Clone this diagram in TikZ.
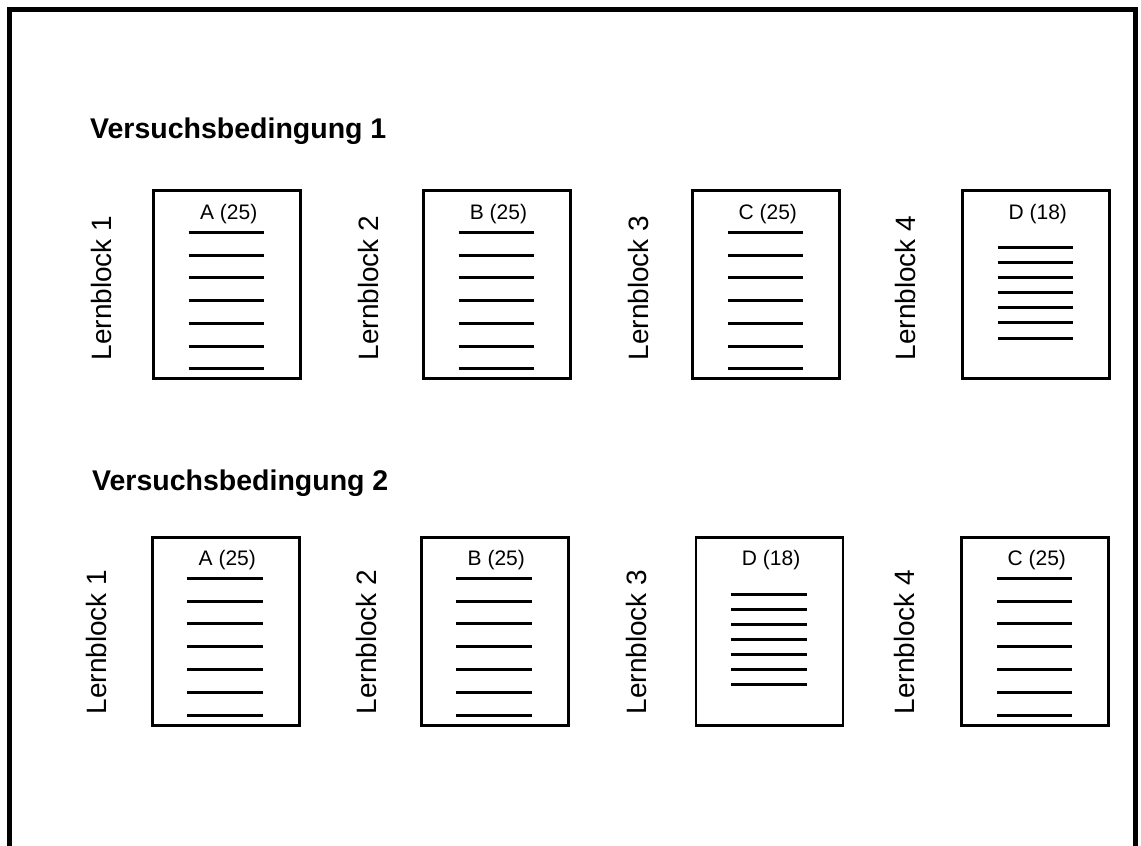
\documentclass[tikz,border=0pt]{standalone}
\usepackage{fontspec}
\setmainfont{Liberation Sans}
\usetikzlibrary{calc}

% one learning page: #1 name, #2 centre x, #3 outer top edge, #4 caption,
% #5 first rule offset, #6 rule spacing
\newcommand{\lernseite}[6]{%
  \node[page] (#1) at (#2, #3+94.6) {};
  \node[pagelabel] (#1-cap) at (#2+1.5, #3+29) {#4};
  \foreach \k in {0,...,6}
    \draw[rule] (#2-38.5, #3+#5+\k*#6) -- (#2+37.1, #3+#5+\k*#6);
}

\begin{document}
\begin{tikzpicture}[x=1pt,y=-1pt,
  frame/.style={line width=4.3pt},
  page/.style={draw, rectangle, line width=2.7pt, inner sep=0pt,
               minimum width=147pt, minimum height=187.8pt},
  rule/.style={line width=3pt},
  heading/.style={font=\fontsize{28.5}{28.5}\selectfont\bfseries, anchor=base west, inner sep=0pt},
  blocklabel/.style={font=\fontsize{28}{28}\selectfont, rotate=90, inner sep=0pt},
  pagelabel/.style={font=\fontsize{21}{21}\selectfont, anchor=base, inner sep=0pt}]
\useasboundingbox (0,0) rectangle (1141,846);

% outer frame, open at the bottom
\draw[frame] (9.5,846) -- (9.5,9.5) -- (1135.5,9.5) -- (1135.5,846);

% condition 1
\node[heading] (vb1) at (90,138.5) {Versuchsbedingung 1};
\node[blocklabel] (vb1-l1) at (101,288) {Lernblock 1};
\node[blocklabel] (vb1-l2) at (368,288) {Lernblock 2};
\node[blocklabel] (vb1-l3) at (638,288) {Lernblock 3};
\node[blocklabel] (vb1-l4) at (905,288) {Lernblock 4};
\lernseite{vb1-a}{227.2}{190}{A (25)}{42.3}{22.75}
\lernseite{vb1-b}{497}{190}{B (25)}{42.3}{22.75}
\lernseite{vb1-c}{766.3}{190}{C (25)}{42.3}{22.75}
\lernseite{vb1-d}{1036.3}{190}{D (18)}{57.7}{15.05}

% condition 2
\node[heading] (vb2) at (92,490) {Versuchsbedingung 2};
\node[blocklabel] (vb2-l1) at (96.7,642) {Lernblock 1};
\node[blocklabel] (vb2-l2) at (366.7,642) {Lernblock 2};
\node[blocklabel] (vb2-l3) at (636.7,642) {Lernblock 3};
\node[blocklabel] (vb2-l4) at (904,642) {Lernblock 4};
\lernseite{vb2-a}{225.8}{536.7}{A (25)}{41.6}{22.8}
\lernseite{vb2-b}{494.8}{536.7}{B (25)}{41.6}{22.8}
\lernseite{vb2-d}{769.6}{536.7}{D (18)}{57.3}{15.0}
\lernseite{vb2-c}{1035.3}{536.7}{C (25)}{41.6}{22.8}
\end{tikzpicture}
\end{document}
